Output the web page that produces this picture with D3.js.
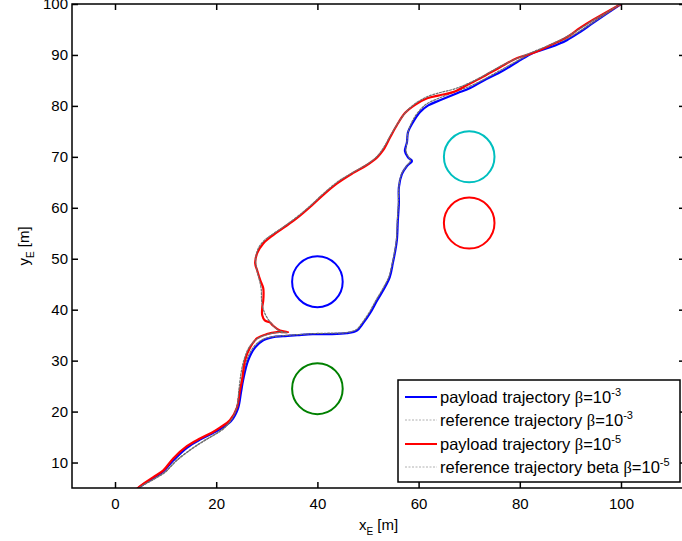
<!DOCTYPE html>
<html>
<head>
<meta charset="utf-8">
<script src="https://cdn.jsdelivr.net/npm/d3@7"></script>
<style>
  html, body { margin: 0; padding: 0; background: #fff; }
  svg { display: block; font-family: "Liberation Sans", Arial, sans-serif; }
</style>
</head>
<body>
<svg id="chart" width="682" height="541"></svg>
<script>
// Payload trajectory, beta = 1e-3 (x_E, y_E in metres)
const payloadB3 = [
  [0.5, 0.5], [4.5, 4.9], [7.5, 6.9], [9.5, 8.2], [11.5, 10.4], [14.2, 12.9], [16.8, 14.5],
  [19.2, 15.7], [21.0, 16.7], [22.9, 18.1], [24.3, 20.6], [24.9, 23.8], [25.3, 26.1],
  [26.3, 30.0], [27.7, 32.6], [29.3, 34.0], [31.2, 34.6], [33.2, 34.8], [36.0, 35.0],
  [39.1, 35.2], [42.5, 35.2], [45.8, 35.4], [47.8, 35.9], [49.0, 37.3], [50.4, 39.3],
  [51.8, 41.8], [53.0, 43.8], [54.3, 46.4], [54.9, 49.1], [55.3, 51.1], [55.7, 53.6],
  [55.9, 57.6], [56.1, 60.9], [56.1, 64.0], [56.7, 66.6], [57.7, 68.2], [58.7, 69.2],
  [57.9, 69.9], [57.3, 71.1], [57.7, 72.9], [57.9, 74.8], [58.9, 76.8], [60.3, 78.8],
  [61.9, 80.1], [64.2, 81.1], [67.6, 82.5], [70.2, 83.5], [72.7, 84.9], [76.1, 86.6],
  [79.5, 88.6], [82.6, 90.4], [86.0, 91.5], [89.3, 92.9], [91.9, 94.5], [94.5, 96.3],
  [100, 100]
];

// Reference trajectory, beta = 1e-3
const referenceB3 = [
  [0.5, 0.5], [4.6, 4.9], [7.8, 6.8], [9.9, 8.1], [12.0, 10.2], [14.9, 12.5], [17.5, 14.2],
  [19.9, 15.6], [21.6, 16.8], [23.1, 18.6], [24.1, 21.0], [24.6, 24.2], [25.2, 26.8],
  [26.1, 30.3], [27.5, 32.8], [29.1, 34.1], [31.2, 34.7], [33.2, 34.9], [36.0, 35.1],
  [39.1, 35.3], [42.5, 35.4], [45.7, 35.5], [47.7, 36.1], [48.9, 37.5], [50.2, 39.4],
  [51.6, 41.9], [52.8, 43.9], [54.1, 46.4], [54.8, 49.1], [55.2, 51.1], [55.6, 53.6],
  [55.8, 57.5], [56.0, 60.9], [56.1, 64.0], [56.6, 66.6], [57.6, 68.2], [58.4, 69.3],
  [57.9, 70.2], [57.5, 71.2], [57.7, 72.9], [57.9, 74.8], [58.7, 76.9], [60.0, 78.9],
  [61.6, 80.4], [64.0, 81.5], [67.3, 82.8], [70.0, 83.8], [72.7, 85.1], [76.0, 86.9],
  [79.4, 88.8], [82.6, 90.4], [86.0, 91.8], [89.3, 93.2], [91.9, 94.7], [94.5, 96.4],
  [100, 100]
];

// Payload trajectory, beta = 1e-5
const payloadB5 = [
  [0.5, 0.5], [4.4, 4.9], [7.5, 7.1], [9.5, 8.4], [11.5, 10.8], [14.2, 13.2], [16.8, 14.7],
  [19.2, 15.9], [20.8, 16.9], [22.7, 18.3], [24.1, 20.8], [24.7, 24.2], [25.1, 26.1],
  [25.7, 30.1], [26.7, 32.6], [28.1, 34.4], [30.0, 35.2], [32.0, 35.6], [34.2, 35.6],
  [32.6, 35.9], [31.2, 36.9], [30.6, 37.5], [29.6, 37.9], [29.1, 38.9], [29.1, 40.5],
  [29.3, 41.8], [29.3, 44.2], [28.7, 45.8], [28.1, 47.7], [27.7, 49.1], [28.1, 51.1],
  [29.3, 53.0], [31.2, 54.6], [33.2, 56.0], [36.0, 58.0], [38.5, 60.1], [41.1, 62.5],
  [43.9, 64.8], [47.0, 66.8], [49.8, 68.4], [51.8, 69.9], [53.0, 71.3], [54.4, 73.9],
  [55.7, 76.2], [57.3, 78.6], [59.3, 80.2], [61.7, 81.5], [64.2, 82.1], [66.8, 82.7],
  [69.6, 84.1], [72.7, 85.7], [76.1, 87.6], [79.5, 89.4], [82.6, 90.4], [86.0, 91.9],
  [89.3, 93.5], [91.9, 95.3], [94.5, 96.9], [100, 100]
];

// Reference trajectory, beta = 1e-5
const referenceB5 = [
  [0.5, 0.5], [4.6, 4.9], [7.8, 6.8], [9.9, 8.1], [12.0, 10.3], [14.9, 12.5], [17.5, 14.2],
  [19.9, 15.6], [21.6, 16.8], [23.1, 18.6], [24.1, 21.0], [24.5, 24.4], [24.9, 27.5],
  [25.5, 30.2], [26.5, 32.6], [28.0, 34.2], [30.0, 35.1], [32.0, 35.5], [34.0, 35.5],
  [32.4, 35.9], [30.8, 37.4], [29.6, 39.3], [29.0, 41.5], [28.9, 44.0], [28.5, 46.0],
  [28.0, 48.0], [27.8, 50.0], [28.3, 52.0], [29.5, 53.6], [31.4, 55.0], [33.5, 56.4],
  [36.2, 58.4], [38.7, 60.5], [41.2, 62.8], [44.0, 65.1], [47.1, 67.0], [49.9, 68.6],
  [51.9, 70.2], [53.2, 72.0], [54.5, 74.3], [55.9, 76.6], [57.5, 78.8], [59.4, 80.5],
  [61.7, 81.8], [64.2, 82.6], [67.0, 83.3], [69.8, 84.4], [72.8, 85.9], [76.0, 87.7],
  [79.4, 89.3], [82.6, 90.6], [86.0, 92.0], [89.3, 93.6], [92.0, 95.2], [94.5, 96.8],
  [100, 100]
];

// Circular obstacles: centre x, centre y, radius, colour
const obstacleX = [40, 40, 70, 70];
const obstacleY = [45.5, 24.5, 70, 57];
const obstacleR = [5, 5, 5, 5];
const obstacleColor = ["#0000ff", "#008000", "#00bfbf", "#ff0000"];

const xTicks = [0, 20, 40, 60, 80, 100];
const yTicks = [10, 20, 30, 40, 50, 60, 70, 80, 90, 100];

const legendLabels = [
  ["payload trajectory ", "=10", "-3"],
  ["reference trajectory ", "=10", "-3"],
  ["payload trajectory ", "=10", "-5"],
  ["reference trajectory beta ", "=10", "-5"]
];

const svg = d3.select("#chart");
const plotLeft = 72, plotRight = 685, plotTop = 4, plotBottom = 488;

const x = d3.scaleLinear().domain([-8.5, 112.65]).range([plotLeft, plotRight]);
const y = d3.scaleLinear().domain([5, 100]).range([plotBottom, plotTop]);

svg.append("defs").append("clipPath").attr("id", "plotClip")
  .append("rect").attr("x", plotLeft).attr("y", plotTop)
  .attr("width", plotRight - plotLeft).attr("height", plotBottom - plotTop);

const plot = svg.append("g").attr("clip-path", "url(#plotClip)");

// obstacles
plot.selectAll("ellipse.obstacle")
  .data(d3.range(obstacleX.length))
  .join("ellipse")
  .attr("class", "obstacle")
  .attr("cx", i => x(obstacleX[i]))
  .attr("cy", i => y(obstacleY[i]))
  .attr("rx", i => x(obstacleR[i]) - x(0))
  .attr("ry", i => y(0) - y(obstacleR[i]))
  .attr("fill", "none")
  .attr("stroke", i => obstacleColor[i])
  .attr("stroke-width", 2);

const line = d3.line()
  .x(d => x(d[0]))
  .y(d => y(d[1]))
  .curve(d3.curveCatmullRom.alpha(0.5));

const series = [
  { data: payloadB3, color: "#0000ff", width: 2.2, dash: null },
  { data: referenceB3, color: "#707070", width: 1.2, dash: "2,1.5" },
  { data: payloadB5, color: "#ff0000", width: 2.2, dash: null },
  { data: referenceB5, color: "#707070", width: 1.2, dash: "2,1.5" }
];

plot.selectAll("path.traj")
  .data(series)
  .join("path")
  .attr("class", "traj")
  .attr("d", s => line(s.data))
  .attr("fill", "none")
  .attr("stroke", s => s.color)
  .attr("stroke-width", s => s.width)
  .attr("stroke-dasharray", s => s.dash)
  .attr("stroke-linejoin", "round")
  .attr("stroke-linecap", "round");

// axes with inward ticks on all four sides
const tickLen = 6;
const fontSize = 15;
const axisG = svg.append("g");

axisG.append("g").attr("transform", `translate(0,${plotBottom})`)
  .call(d3.axisBottom(x).tickValues(xTicks).tickSize(-tickLen).tickPadding(10).tickFormat(d3.format("d")))
  .call(g => g.select(".domain").remove());
axisG.append("g").attr("transform", `translate(0,${plotTop})`)
  .call(d3.axisTop(x).tickValues(xTicks).tickSize(-tickLen).tickFormat(""))
  .call(g => g.select(".domain").remove());
axisG.append("g").attr("transform", `translate(${plotLeft},0)`)
  .call(d3.axisLeft(y).tickValues(yTicks).tickSize(-tickLen).tickPadding(4).tickFormat(d3.format("d")))
  .call(g => g.select(".domain").remove());
axisG.append("g").attr("transform", `translate(${plotRight},0)`)
  .call(d3.axisRight(y).tickValues(yTicks).tickSize(-tickLen).tickFormat(""))
  .call(g => g.select(".domain").remove());

axisG.selectAll(".tick line").attr("stroke", "#000").attr("stroke-width", 1.5);
axisG.selectAll(".tick text")
  .attr("fill", "#000")
  .style("font-size", fontSize + "px")
  .style("font-family", "'Liberation Sans', Arial, sans-serif");

svg.append("rect")
  .attr("x", plotLeft).attr("y", plotTop)
  .attr("width", plotRight - plotLeft).attr("height", plotBottom - plotTop)
  .attr("fill", "none").attr("stroke", "#000").attr("stroke-width", 1.5);

// axis titles
const xTitle = svg.append("text")
  .attr("x", (plotLeft + plotRight) / 2).attr("y", 530)
  .attr("text-anchor", "middle").style("font-size", fontSize + "px");
xTitle.append("tspan").text("x");
xTitle.append("tspan").attr("dy", 5).style("font-size", "10px").text("E");
xTitle.append("tspan").attr("dy", -5).text(" [m]");

const yTitle = svg.append("text")
  .attr("transform", `translate(29,${(plotTop + plotBottom) / 2}) rotate(-90)`)
  .attr("text-anchor", "middle").style("font-size", fontSize + "px");
yTitle.append("tspan").text("y");
yTitle.append("tspan").attr("dy", 5).style("font-size", "10px").text("E");
yTitle.append("tspan").attr("dy", -5).text(" [m]");

// legend
const lg = svg.append("g");
lg.append("rect")
  .attr("x", 398).attr("y", 380).attr("width", 282).attr("height", 102)
  .attr("fill", "#fff").attr("stroke", "#000").attr("stroke-width", 1.5);

const legendFont = 16.5;
const rowY = [397, 420, 444, 467];
series.forEach((s, i) => {
  lg.append("line")
    .attr("x1", 405).attr("x2", 437)
    .attr("y1", rowY[i]).attr("y2", rowY[i])
    .attr("stroke", s.dash ? "#b0b0b0" : s.color)
    .attr("stroke-width", s.dash ? 1 : 2)
    .attr("stroke-dasharray", s.dash);
  const t = lg.append("text")
    .attr("x", 440).attr("y", rowY[i] + 6)
    .style("font-size", legendFont + "px");
  t.append("tspan").text(legendLabels[i][0]);
  t.append("tspan").style("font-family", "'Liberation Serif', serif").text("\u03b2");
  t.append("tspan").text(legendLabels[i][1]);
  t.append("tspan").attr("dy", -7).style("font-size", "11px").text(legendLabels[i][2]);
});
</script>
</body>
</html>
